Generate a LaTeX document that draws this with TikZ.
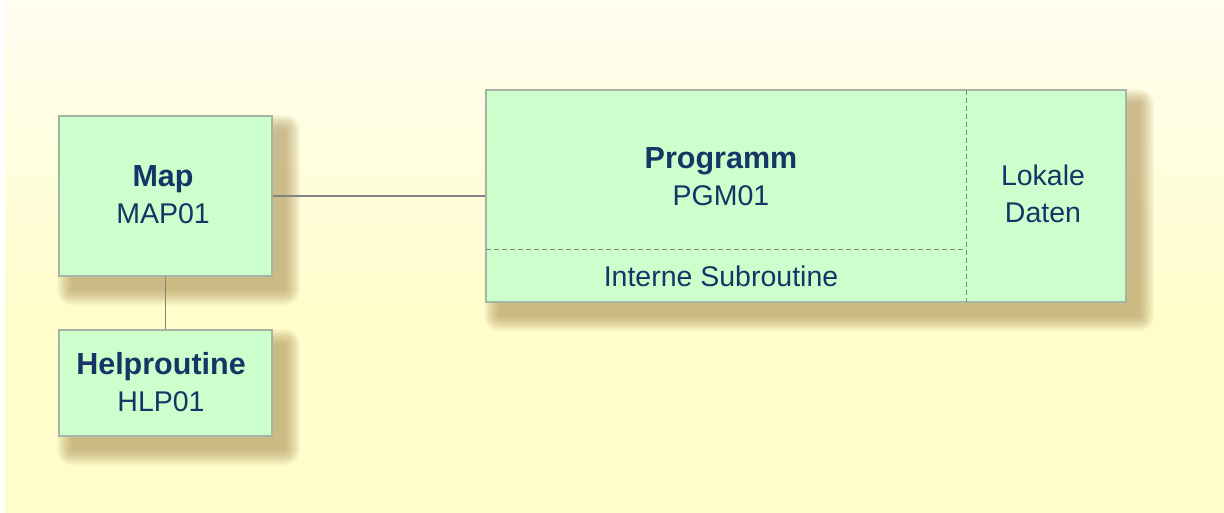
\documentclass[tikz,border=0pt]{standalone}
\usepackage{fontspec}
\setmainfont{Liberation Sans}
\definecolor{bgy}{RGB}{255,253,204}
\definecolor{boxfill}{RGB}{204,255,204}
\definecolor{boxline}{RGB}{165,180,165}
\definecolor{txt}{RGB}{23,52,102}
\definecolor{conn}{RGB}{130,130,130}
\definecolor{dashc}{RGB}{130,140,130}
\definecolor{shadowc}{RGB}{175,145,85}
\pgfdeclareverticalshading{bgshade}{100bp}{color(0bp)=(bgy); color(45bp)=(bgy); color(72bp)=(bgy!35!white); color(100bp)=(white)}
\newcommand{\softshadow}[4]{%
  \foreach \r in {0,...,15}{%
    \fill[shadowc, opacity=0.05, rounded corners=\r pt] ({#1+13-\r},{#2+14-\r}) rectangle ({#3+13+\r},{#4+14+\r});
  }%
}
\newcommand{\ttl}[1]{{\fontsize{30.5}{37}\selectfont\bfseries #1}}
\begin{document}
\begin{tikzpicture}[x=1pt,y=-1pt,
  box/.style={draw=boxline, line width=1.3pt, fill=boxfill, rectangle, inner sep=0pt},
  lbl/.style={text=txt, align=center, font=\fontsize{28.5}{37}\selectfont, inner sep=0pt},
  conn/.style={draw=conn, line width=1.2pt},
  divider/.style={draw=dashc, line width=1pt, dash pattern=on 5pt off 3pt}]
\useasboundingbox (0,0) rectangle (1224,513);
\fill[white] (0,0) rectangle (1224,513);
\shade[shading=bgshade] (5,0) rectangle (1224,513);

% shadows
\softshadow{59}{116}{272}{276}
\softshadow{59}{330}{272}{436}
\softshadow{486}{90}{1126}{302}

% boxes
\node[box, minimum width=213pt, minimum height=160pt] (map) at (165.5,196) {};
\node[box, minimum width=213pt, minimum height=106pt] (hlp) at (165.5,383) {};
\node[box, minimum width=640pt, minimum height=212pt] (pgm) at (806,196) {};

\draw[conn] (map.east) -- (pgm.west);
\draw[conn] (map.south) -- (hlp.north);

% dividers inside program box
\coordinate (dvtop) at (966,90);
\coordinate (dvbot) at (966,302);
\coordinate (dhl) at (486,250);
\coordinate (dhr) at (966,250);
\draw[divider] (dvtop) -- (dvbot);
\draw[divider] (dhl) -- (dhr);

% texts
\node[lbl] (maptxt) at (163,195) {\ttl{Map}\\MAP01};
\node[lbl] (hlptxt) at (161,382) {\ttl{Helproutine}\\HLP01};
\node[lbl] (pgmtxt) at (721,177) {\ttl{Programm}\\PGM01};
\node[lbl] (subtxt) at (721,276) {Interne Subroutine};
\node[lbl] (loktxt) at (1043,194) {Lokale\\Daten};
\end{tikzpicture}
\end{document}
